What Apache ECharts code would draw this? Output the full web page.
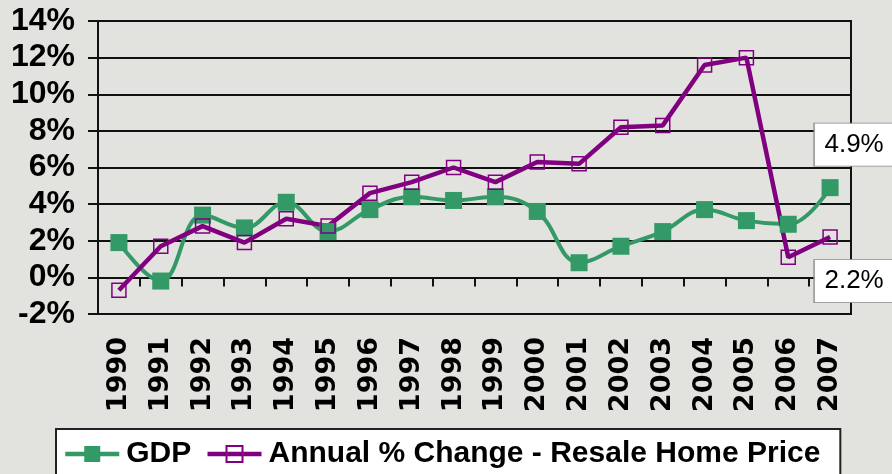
<!DOCTYPE html>
<html>
<head>
<meta charset="utf-8">
<script src="https://cdn.jsdelivr.net/npm/echarts@6.0.0/dist/echarts.min.js"></script>
<style>
  html, body { margin: 0; padding: 0; background: #e2e2de; }
  #chart { width: 892px; height: 474px; }
</style>
</head>
<body>
<div id="chart"></div>
<script>
  var years = ['1990', '1991', '1992', '1993', '1994', '1995', '1996', '1997', '1998',
               '1999', '2000', '2001', '2002', '2003', '2004', '2005', '2006', '2007'];
  var gdp = [1.9, -0.2, 3.4, 2.7, 4.1, 2.5, 3.7, 4.4, 4.2, 4.4, 3.6, 0.8, 1.7, 2.5, 3.7, 3.1, 2.9, 4.9];
  var homePrice = [-0.7, 1.7, 2.8, 1.9, 3.2, 2.8, 4.6, 5.2, 6.0, 5.2, 6.3, 6.2, 8.2, 8.3, 11.6, 12.0, 1.1, 2.2];
  var seriesNames = ['GDP', 'Annual % Change - Resale Home Price'];

  var GREEN = '#339966';
  var PURPLE = '#800080';
  var INK = '#111';

  var last = years.length - 1;

  // white callout boxes at the right edge, anchored to the last point
  function calloutMark(value, offsetY) {
    return {
      symbol: 'rect',
      symbolSize: [80, 43],
      symbolOffset: [24, offsetY],
      itemStyle: { color: '#fff', borderColor: '#888', borderWidth: 1 },
      label: {
        show: true,
        position: 'inside',
        formatter: value.toFixed(1) + '%',
        color: '#000',
        fontFamily: 'Liberation Sans, Arial, sans-serif',
        fontSize: 26
      },
      data: [{ coord: [years[last], value] }]
    };
  }

  var chart = echarts.init(document.getElementById('chart'));
  chart.setOption({
    backgroundColor: '#e2e2de',
    animation: false,
    grid: {
      left: 98, right: 41, top: 21, bottom: 160,
      show: true, borderColor: INK, borderWidth: 2, backgroundColor: 'transparent'
    },
    legend: {
      left: 56, top: 429,
      padding: [10, 20, 10, 7],
      itemWidth: 54, itemHeight: 20, itemGap: 14,
      backgroundColor: '#fff', borderColor: '#222', borderWidth: 2,
      lineStyle: { width: 4.5 },
      textStyle: { fontFamily: 'Liberation Sans, Arial, sans-serif', fontWeight: 'bold', fontSize: 30, color: '#000', padding: [0, 0, 0, 2] },
      data: seriesNames
    },
    xAxis: [{
      type: 'category',
      data: years,
      position: 'bottom',
      boundaryGap: true,
      axisLine: { show: true, onZero: true, lineStyle: { color: INK, width: 2 } },
      axisTick: { show: true, length: 9, lineStyle: { color: INK, width: 2 } },
      axisLabel: { show: false }
    }, {
      type: 'category',
      data: years,
      position: 'bottom',
      boundaryGap: true,
      axisLine: { show: false, onZero: false },
      axisTick: { show: false },
      axisLabel: {
        rotate: 90, margin: 23, interval: 0,
        fontFamily: 'DejaVu Sans, sans-serif', fontWeight: 'bold', fontSize: 27, color: '#000'
      }
    }],
    yAxis: {
      type: 'value',
      min: -2, max: 14, interval: 2,
      axisLine: { show: true, lineStyle: { color: INK, width: 2 } },
      axisTick: { show: true, length: 10, lineStyle: { color: INK, width: 2 } },
      splitLine: { show: true, lineStyle: { color: INK, width: 2 } },
      axisLabel: {
        formatter: '{value}%', margin: 23,
        fontFamily: 'Liberation Sans, Arial, sans-serif', fontWeight: 'bold', fontSize: 32, color: '#000'
      }
    },
    series: [{
      name: seriesNames[0],
      type: 'line',
      data: gdp,
      smooth: 0.4,
      symbol: 'rect',
      symbolSize: 17,
      itemStyle: { color: GREEN },
      lineStyle: { color: GREEN, width: 4 },
      markPoint: calloutMark(gdp[last], -43)
    }, {
      name: seriesNames[1],
      type: 'line',
      data: homePrice,
      symbol: 'rect',
      symbolSize: 14,
      itemStyle: { color: 'rgba(0,0,0,0)', borderColor: PURPLE, borderWidth: 1.5 },
      lineStyle: { color: PURPLE, width: 4.5 },
      markPoint: calloutMark(homePrice[last], 44)
    }]
  });
</script>
</body>
</html>
